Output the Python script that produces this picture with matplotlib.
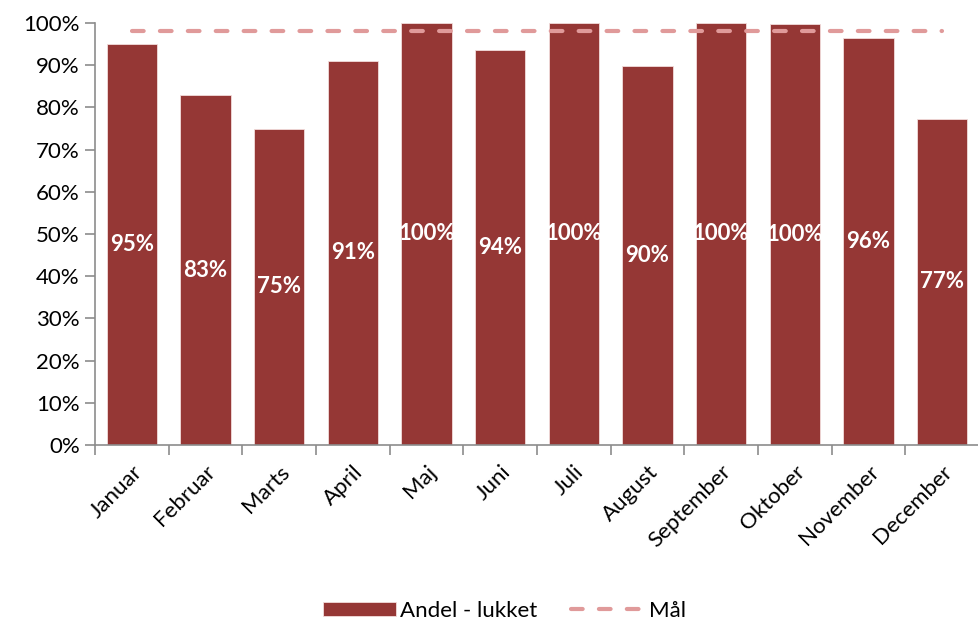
import numpy as np
import matplotlib.pyplot as plt
from matplotlib.ticker import FixedLocator, PercentFormatter

plt.rcParams['font.family'] = ['Lato', 'DejaVu Sans']

months = ["Januar", "Februar", "Marts", "April", "Maj", "Juni", "Juli",
          "August", "September", "Oktober", "November", "December"]
andel = [95.0, 82.9, 74.9, 91.0, 100.0, 93.6, 100.0, 89.8, 100.0, 99.7, 96.4, 77.3]
maal = [98.0] * 12

bar_color = "#953735"
goal_color = "#E09A9A"
axis_color = "#8C8C8C"

fig = plt.figure(figsize=(9.79, 6.22), dpi=100)
ax = fig.add_axes([0.097, 0.2846, 0.903, 0.6784])

x = np.arange(len(months))
bars = ax.bar(x, andel, width=0.68, color=bar_color, edgecolor="#F2DCDB",
              linewidth=0.6, label="Andel - lukket", zorder=2)
goal, = ax.plot(x, maal, color=goal_color, lw=3, dashes=(2.8, 3.9),
                dash_capstyle="round", label="Mål", zorder=3)

for xi, v in zip(x, andel):
    ax.text(xi, v / 2, f"{round(v):.0f}%", ha="center", va="center",
            color="white", fontsize=16, fontweight="bold", zorder=4)

ax.set_xlim(-0.5, len(months) - 0.5)
ax.set_ylim(0, 100)
ax.yaxis.set_major_locator(FixedLocator(np.arange(0, 101, 10)))
ax.yaxis.set_major_formatter(PercentFormatter(decimals=0))

ax.set_xticks(x)
ax.set_xticklabels(months, rotation=45, ha="right", rotation_mode="anchor",
                   fontsize=16)
ax.tick_params(axis="x", which="major", length=0, pad=12)
ax.set_xticks(np.arange(-0.5, len(months), 1), minor=True)
ax.tick_params(axis="x", which="minor", length=7, color=axis_color, width=1.2)
ax.tick_params(axis="y", length=7, color=axis_color, width=1.2, labelsize=16, pad=4)

for s in ["top", "right"]:
    ax.spines[s].set_visible(False)
for s in ["left", "bottom"]:
    ax.spines[s].set_color(axis_color)
    ax.spines[s].set_linewidth(1.2)

fig.legend([bars, goal], ["Andel - lukket", "Mål"], loc="center",
           bbox_to_anchor=(0.515, 0.018), ncol=2, frameon=False, fontsize=16,
           handlelength=3.3, handleheight=0.6, columnspacing=1.5,
           handletextpad=0.2)

fig.savefig("out.png", dpi=100)
